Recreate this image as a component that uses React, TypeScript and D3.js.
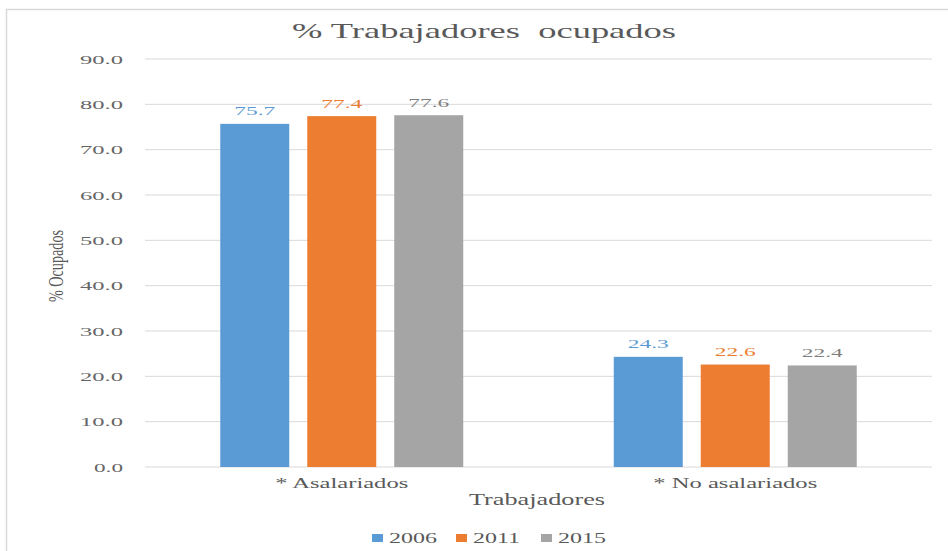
import React from "react";
import * as d3 from "d3";

const categories = ["* Asalariados", "* No asalariados"];
const years = ["2006", "2011", "2015"];
const values2006 = [75.7, 24.3];
const values2011 = [77.4, 22.6];
const values2015 = [77.6, 22.4];
const yTicks = [0, 10, 20, 30, 40, 50, 60, 70, 80, 90];
const colors = ["#5B9BD5", "#ED7D31", "#A5A5A5"];
const labelColors = ["#5B9BD5", "#ED7D31", "#7F7F7F"];

const W = 948;
const H = 551;
const FONT = '"Liberation Serif", "DejaVu Serif", "Times New Roman", serif';

export default function App() {
  const series = [values2006, values2011, values2015];
  const left = 145;
  const right = 932;
  const top = 59;
  const bottom = 467;

  const y = d3.scaleLinear().domain([0, 90]).range([bottom, top]);
  const x0 = d3
    .scaleBand<string>()
    .domain(categories)
    .range([left, right])
    .paddingInner(0.3825)
    .paddingOuter(0.19125);
  const x1 = d3
    .scaleBand<string>()
    .domain(years)
    .range([0, x0.bandwidth()])
    .paddingInner(0.207)
    .paddingOuter(0);

  const fmt = d3.format(".1f");

  const legendItems = [
    { year: years[0], sx: 372, tx: 389, tl: 48 },
    { year: years[1], sx: 456, tx: 473, tl: 47 },
    { year: years[2], sx: 541, tx: 558, tl: 48 },
  ];

  const ts = { fontFamily: FONT };

  return (
    <svg
      width={W}
      height={H}
      style={{ position: "absolute", left: 0, top: 0, background: "#fff", fontFamily: FONT }}
    >
      <rect x={0} y={0} width={W} height={H} fill="#fff" />
      <rect
        x={6.5}
        y={9.5}
        width={W + 10}
        height={H + 10}
        fill="none"
        stroke="#D9D9D9"
        strokeWidth={1.5}
      />
      {/* Title */}
      <text
        x={484}
        y={38}
        textAnchor="middle"
        fontSize={21}
        fill="#595959"
        textLength={384}
        lengthAdjust="spacingAndGlyphs"
        style={{ ...ts, whiteSpace: "pre" }}
      >
        % Trabajadores  ocupados
      </text>

      {/* Gridlines and y ticks */}
      {yTicks.map((t) => (
        <g key={t}>
          <line
            x1={left}
            x2={right}
            y1={y(t)}
            y2={y(t)}
            stroke="#D9D9D9"
            strokeWidth={1}
          />
          <text
            x={123}
            y={y(t) + 4.5}
            textAnchor="end"
            fontSize={13}
            fill="#666"
            textLength={fmt(t).length === 4 ? 43 : 29}
            lengthAdjust="spacingAndGlyphs"
            style={ts}
          >
            {fmt(t)}
          </text>
        </g>
      ))}

      {/* Bars */}
      {categories.map((c, ci) => (
        <g key={c} transform={`translate(${x0(c)},0)`}>
          {years.map((yr, si) => {
            const v = series[si][ci];
            const bx = x1(yr) as number;
            return (
              <g key={yr}>
                <rect
                  x={bx}
                  y={y(v)}
                  width={x1.bandwidth()}
                  height={bottom - y(v)}
                  fill={colors[si]}
                />
                <text
                  x={bx + x1.bandwidth() / 2}
                  y={y(v) - 8.5}
                  textAnchor="middle"
                  fontSize={13}
                  fill={labelColors[si]}
                  textLength={41}
                  lengthAdjust="spacingAndGlyphs"
                  style={ts}
                >
                  {fmt(v)}
                </text>
              </g>
            );
          })}
        </g>
      ))}

      {/* x category labels */}
      {categories.map((c, ci) => (
        <text
          key={c}
          x={(x0(c) as number) + x0.bandwidth() / 2}
          y={488}
          textAnchor="middle"
          fontSize={14}
          fill="#595959"
          textLength={ci === 0 ? 133 : 164}
          lengthAdjust="spacingAndGlyphs"
          style={ts}
        >
          {c}
        </text>
      ))}

      {/* x axis title */}
      <text
        x={537}
        y={505}
        textAnchor="middle"
        fontSize={16}
        fill="#595959"
        textLength={136}
        lengthAdjust="spacingAndGlyphs"
        style={ts}
      >
        Trabajadores
      </text>

      {/* y axis title */}
      <text
        transform={`translate(63,266) rotate(-90)`}
        textAnchor="middle"
        fontSize={21}
        fill="#595959"
        textLength={72}
        lengthAdjust="spacingAndGlyphs"
        style={ts}
      >
        % Ocupados
      </text>

      {/* Legend */}
      {legendItems.map((it, i) => (
        <g key={it.year}>
          <rect x={it.sx} y={534} width={11} height={8} fill={colors[i]} />
          <text
            x={it.tx}
            y={543}
            fontSize={14}
            fill="#595959"
            textLength={it.tl}
            lengthAdjust="spacingAndGlyphs"
            style={ts}
          >
            {it.year}
          </text>
        </g>
      ))}
    </svg>
  );
}
